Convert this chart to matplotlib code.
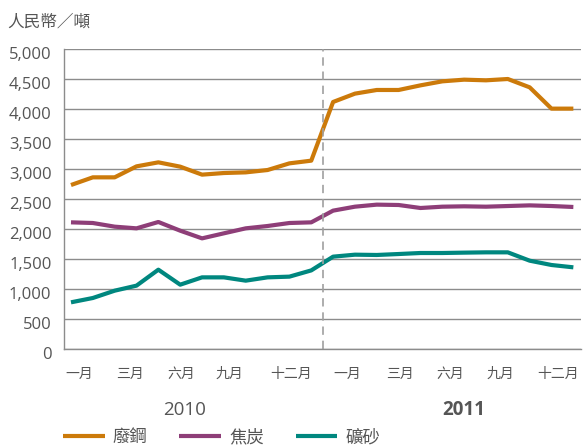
import matplotlib
matplotlib.use("Agg")
import matplotlib.pyplot as plt
from matplotlib.ticker import FuncFormatter
from matplotlib.transforms import ScaledTranslation

plt.rcParams['font.family'] = ['Open Sans', 'Noto Sans CJK TC', 'DejaVu Sans']

# 每月價格 (人民幣/噸), 2010年一月 至 2011年十二月
scrap = [2733, 2861, 2861, 3044, 3111, 3039, 2906, 2933, 2944, 2983, 3094, 3139,
         4117, 4256, 4317, 4317, 4394, 4461, 4489, 4478, 4500, 4361, 4006, 4006]
coke = [2111, 2100, 2039, 2011, 2117, 1972, 1844, 1928, 2011, 2050, 2100, 2111,
        2306, 2372, 2406, 2400, 2350, 2372, 2378, 2372, 2383, 2394, 2383, 2367]
ore = [778, 850, 972, 1056, 1322, 1072, 1194, 1194, 1139, 1194, 1206, 1310,
       1539, 1572, 1567, 1583, 1600, 1600, 1606, 1611, 1611, 1472, 1400, 1361]

series_names = ['廢鋼', '焦炭', '礦砂']
month_labels = ['一月', '三月', '六月', '九月', '十二月'] * 2
years = ['2010', '2011']
y_ticks = list(range(0, 5001, 500))

colors = ['#CC7A0A', '#8E3E78', '#00877F']
text_col = '#555555'

fig = plt.figure(figsize=(5.85, 4.48), dpi=100)
ax = fig.add_axes([64 / 585, 1 - 349 / 448, (581 - 64) / 585, 300 / 448])

x = list(range(len(scrap)))
for vals, name, c in zip([scrap, coke, ore], series_names, colors):
    ax.plot(x, vals, color=c, lw=3, label=name, solid_capstyle='butt')

ax.set_ylim(0, 5000)
ax.set_xlim(-0.32, 23.35)
ax.set_yticks(y_ticks)
ax.yaxis.set_major_formatter(FuncFormatter(lambda v, p: f'{int(v):,}'))
ax.grid(axis='y', color='#8c8c8c', lw=1)
ax.set_axisbelow(True)

# month labels sit evenly spaced under the axis, not on the data points
tick_pos = [0.37, 2.70, 5.03, 7.27, 10.06, 12.66, 15.05, 17.38, 19.66, 22.32]
ax.set_xticks(tick_pos)
ax.set_xticklabels(month_labels, fontsize=10, color=text_col)
ax.tick_params(axis='x', length=0, pad=13)
ax.tick_params(axis='y', length=0, pad=9, labelsize=12, labelcolor=text_col)
for lbl in ax.get_yticklabels():
    lbl.set_transform(lbl.get_transform() + ScaledTranslation(0, -3 / 72, fig.dpi_scale_trans))

for s in ['top', 'right']:
    ax.spines[s].set_visible(False)
for s in ['left', 'bottom']:
    ax.spines[s].set_color('#8c8c8c')
    ax.spines[s].set_linewidth(1)

ax.axvline(11.52, color='#a0a0a0', lw=1.2, ls=(0, (5, 3.5)))

trans = ax.get_xaxis_transform()
ax.text(5.21, -0.203, years[0], transform=trans, ha='center', va='center',
        fontsize=13.5, color=text_col)
ax.text(17.97, -0.203, years[1], transform=trans, ha='center', va='center',
        fontsize=13.5, color=text_col, fontweight='bold')

fig.text(7 / 585, 1 - 23 / 448, '人民幣／噸', fontsize=12, color=text_col,
         va='center', ha='left')

fig.legend(loc='center left', bbox_to_anchor=(63 / 585, 10 / 448), ncol=3,
           frameon=False, fontsize=12.5, handlelength=2.4, handletextpad=0.46,
           columnspacing=1.84, borderpad=0, borderaxespad=0, labelcolor=text_col)

fig.savefig('out.png', dpi=100)
